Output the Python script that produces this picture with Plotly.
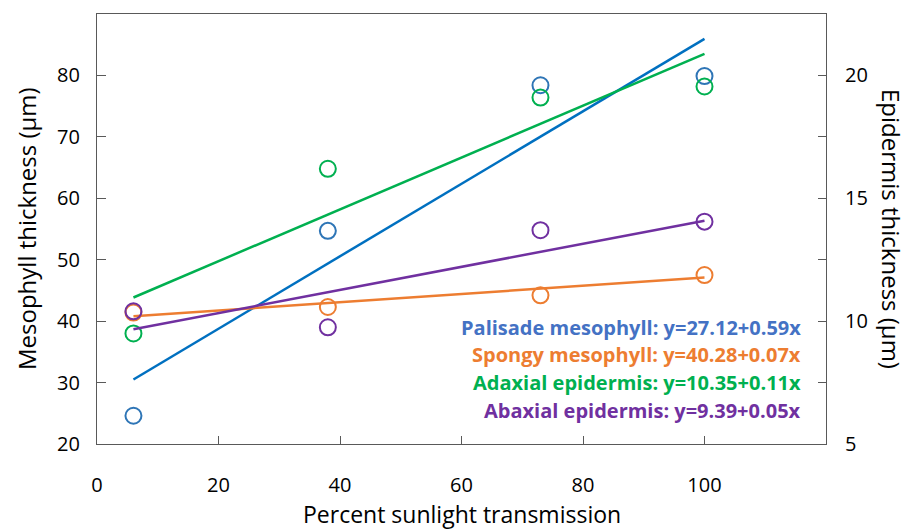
import plotly.graph_objects as go

x_vals = [6, 38, 73, 100]
palisade = [24.6, 54.7, 78.4, 79.9]
spongy = [41.4, 42.3, 44.2, 47.5]
adaxial = [9.5, 16.2, 19.1, 19.55]
abaxial = [10.4, 9.75, 13.7, 14.05]

# trend lines as drawn
fit_x = [6, 100]
fit_intercept = [26.96, 40.40, 10.33, 9.39]
fit_slope = [0.590, 0.067, 0.1055, 0.047]

labels = [
    "Palisade mesophyll: y=27.12+0.59x",
    "Spongy mesophyll: y=40.28+0.07x",
    "Adaxial epidermis: y=10.35+0.11x",
    "Abaxial epidermis: y=9.39+0.05x",
]

line_colors = ["#0070C0", "#ED7D31", "#00B050", "#7030A0"]
marker_colors = ["#2E75B6", "#ED7D31", "#00B050", "#7030A0"]
text_colors = ["#4472C4", "#ED7D31", "#00B050", "#7030A0"]

series = [palisade, spongy, adaxial, abaxial]
axes = ["y", "y", "y2", "y2"]

fig = go.Figure()
for s, a, b, ax, lc, mc in zip(series, fit_intercept, fit_slope, axes, line_colors, marker_colors):
    fig.add_trace(go.Scatter(x=fit_x, y=[a + b * xx for xx in fit_x], mode="lines",
                             line=dict(color=lc, width=2.5), yaxis=ax, showlegend=False))
    fig.add_trace(go.Scatter(x=x_vals, y=s, mode="markers",
                             marker=dict(symbol="circle-open", size=16, color=mc,
                                         line=dict(width=2, color=mc)),
                             yaxis=ax, showlegend=False))

font_family = "Open Sans"
for i, (t, c) in enumerate(zip(labels, text_colors)):
    fig.add_annotation(xref="paper", yref="paper", x=0.968, y=0.272 - i * 0.065,
                       text="<b>" + t + "</b>", showarrow=False, xanchor="right", yanchor="middle",
                       font=dict(family=font_family, size=20, color=c))

title_font = dict(family=font_family, size=24, color="#000000")
fig.add_annotation(xref="paper", yref="paper", x=1.0, xshift=66, y=0.5, text="Epidermis thickness (µm)",
                   textangle=90, showarrow=False, xanchor="center", yanchor="middle", font=title_font)
fig.add_annotation(xref="paper", yref="paper", x=0.0, xshift=-71, y=0.5, text="Mesophyll thickness (µm)",
                   textangle=-90, showarrow=False, xanchor="center", yanchor="middle", font=title_font)
fig.add_annotation(xref="paper", yref="paper", x=0.5, y=0.0, yshift=-87, text="Percent sunlight transmission",
                   showarrow=False, xanchor="center", yanchor="bottom", borderpad=0,
                   font=dict(family=font_family, size=23, color="#000000"))

axis_line = "#595959"
fig.update_layout(
    width=909, height=531,
    margin=dict(l=97, r=83, t=14, b=87),
    plot_bgcolor="white", paper_bgcolor="white",
    font=dict(family=font_family, size=20, color="#000000"),
    xaxis=dict(range=[0, 120], tickvals=[0, 20, 40, 60, 80, 100], ticks="inside", ticklen=8,
               tickcolor=axis_line, showline=True, linecolor=axis_line, linewidth=1.2, mirror=True,
               showgrid=False, zeroline=False, ticklabelstandoff=23, automargin=False),
    yaxis=dict(range=[20, 90], tickvals=[20, 30, 40, 50, 60, 70, 80], ticks="inside", ticklen=9,
               tickcolor=axis_line, showline=True, linecolor=axis_line, linewidth=1.2,
               showgrid=False, zeroline=False, ticklabelstandoff=12, automargin=False),
    yaxis2=dict(range=[5, 22.5], overlaying="y", side="right",
                tickvals=[5, 7.5, 10, 12.5, 15, 17.5, 20], ticktext=["5", "", "10", "", "15", "", "20"],
                ticks="inside", ticklen=8, tickcolor=axis_line, showline=True, linecolor=axis_line,
                linewidth=1.2, showgrid=False, zeroline=False, ticklabelstandoff=14, automargin=False),
)

fig.write_html("out.html")
